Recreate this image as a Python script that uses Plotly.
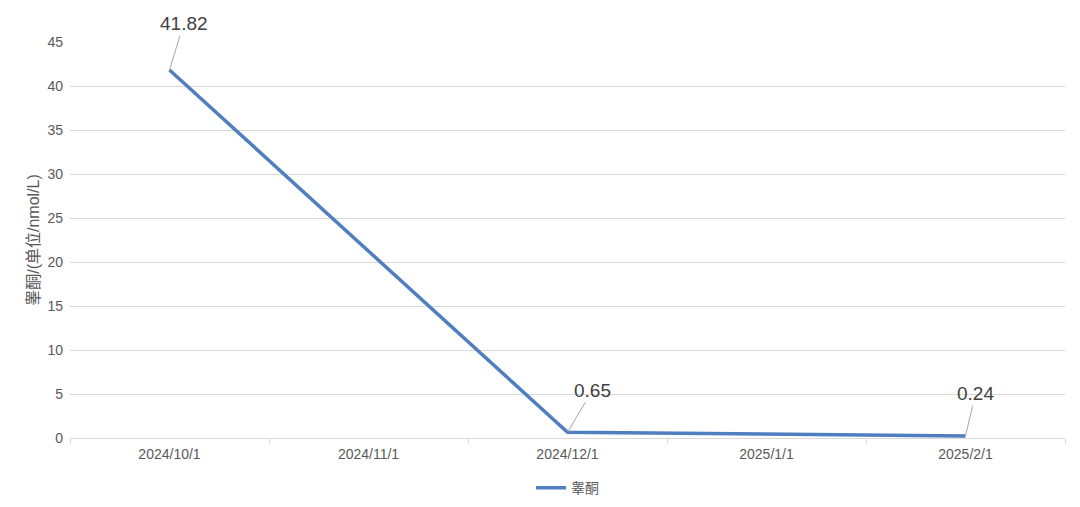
import plotly.graph_objects as go

# datos
fechas = ["2024/10/1", "2024/11/1", "2024/12/1", "2025/1/1", "2025/2/1"]
testosterona = [41.82, None, 0.65, None, 0.24]
nombre_serie = "睾酮"
titulo_y = "睾酮/(单位/nmol/L)"

# desplazamiento de las etiquetas (px)
offsets = {"2024/10/1": (14, -46), "2024/12/1": (25, -42), "2025/2/1": (10, -42)}

FONT = "Liberation Sans, Arial, Noto Sans CJK SC, sans-serif"
GRIS = "#595959"

fig = go.Figure()
fig.add_trace(go.Scatter(
    x=fechas,
    y=testosterona,
    mode="lines",
    name=nombre_serie,
    connectgaps=True,
    line=dict(color="#4f7fbf", width=3.5),
))

for f, v in zip(fechas, testosterona):
    if v is None:
        continue
    ax, ay = offsets[f]
    fig.add_annotation(
        x=f, y=v, text=f"{v:.2f}",
        showarrow=True, arrowhead=0, arrowwidth=1, arrowcolor="#a6a6a6",
        ax=ax, ay=ay, standoff=0,
        font=dict(size=19, color="#404040", family=FONT),
    )

fig.update_layout(
    width=1080, height=507,
    paper_bgcolor="white", plot_bgcolor="white",
    margin=dict(l=70, r=15, t=42, b=69, autoexpand=False),
    font=dict(family=FONT, color=GRIS, size=13),
    showlegend=True,
    legend=dict(orientation="h", x=0.5, xanchor="center",
                yref="container", y=0.037, yanchor="middle",
                font=dict(size=14, color=GRIS)),
)
fig.update_xaxes(
    type="category", categoryorder="array", categoryarray=fechas,
    range=[-0.5, 4.5], tickson="boundaries",
    ticks="outside", ticklen=5, tickcolor="#d9d9d9",
    showline=True, linecolor="#d9d9d9", linewidth=1,
    showgrid=False, tickfont=dict(size=14, color=GRIS),
    ticklabelstandoff=3, automargin=False,
)
fig.update_yaxes(
    range=[0, 45], dtick=5, showgrid=True, gridcolor="#d9d9d9", gridwidth=1,
    zeroline=False, tickfont=dict(size=14, color=GRIS), automargin=False,
    ticklabelstandoff=6,
    title=dict(text=titulo_y, font=dict(size=16, color=GRIS), standoff=3),
)

fig.write_html("out.html", config={"displayModeBar": False},
               post_script="document.body.style.margin='0px';")
